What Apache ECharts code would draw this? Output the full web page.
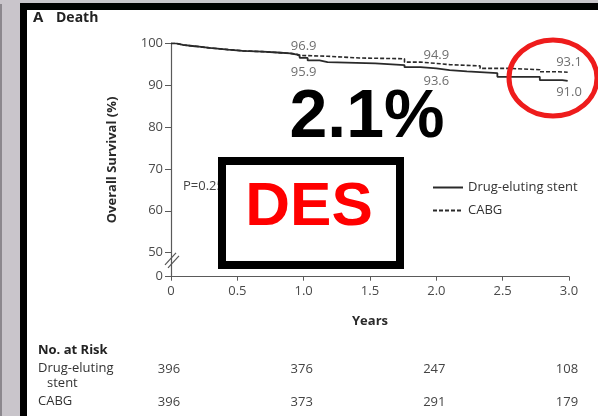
<!DOCTYPE html>
<html>
<head>
<meta charset="utf-8">
<script src="https://cdn.jsdelivr.net/npm/echarts@6/dist/echarts.min.js"></script>
<style>
  html, body { margin: 0; padding: 0; width: 598px; height: 416px; overflow: hidden; background: #c9c5cb; }
  #strip { position: absolute; left: 0; top: 4px; width: 2px; height: 412px; background: #8c888e; }
  #frame { position: absolute; left: 20px; top: 3px; width: 600px; height: 420px; background: #000; }
  #inner { position: absolute; left: 27px; top: 10px; width: 600px; height: 420px; background: #fff; }
  #chart { position: absolute; left: 0; top: 0; width: 598px; height: 416px; }
</style>
</head>
<body>
<div id="strip"></div>
<div id="frame"></div>
<div id="inner"></div>
<div id="chart"></div>
<script>
// ---- Data ----
const desTimes    = [0, 0.04, 0.09, 0.18, 0.29, 0.43, 0.54, 0.69, 0.80, 0.90, 0.95, 0.97, 1.03, 1.12, 1.18, 1.54, 1.76, 1.88, 2.00, 2.10, 2.23, 2.46, 2.78, 2.95, 2.99];
const desSurvival = [100, 99.6, 99.3, 98.9, 98.5, 98.2, 98.0, 97.8, 97.6, 97.3, 97.0, 96.5, 95.9, 95.5, 95.2, 94.8, 94.3, 94.0, 93.6, 93.3, 92.9, 92.0, 91.2, 91.0, 91.0];

const cabgTimes    = [0, 0.04, 0.09, 0.18, 0.29, 0.43, 0.54, 0.69, 0.80, 0.90, 0.95, 0.98, 1.18, 1.42, 1.76, 1.88, 2.00, 2.10, 2.33, 2.55, 2.78, 2.92, 2.99];
const cabgSurvival = [100, 99.6, 99.3, 98.9, 98.5, 98.2, 98.0, 97.8, 97.6, 97.4, 97.1, 96.9, 96.5, 96.3, 95.5, 95.2, 94.9, 94.6, 94.0, 93.7, 93.2, 93.1, 93.1];

const labelYears   = [1.0, 2.0, 3.0];
const desLabels    = [95.9, 93.6, 91.0];
const cabgLabels   = [96.9, 94.9, 93.1];

const xTickValues  = [0, 0.5, 1.0, 1.5, 2.0, 2.5, 3.0];
const xTickLabels  = ['0', '0.5', '1.0', '1.5', '2.0', '2.5', '3.0'];
const yBreakBase   = 44.25;              // axis bottom, stands for 0 after the break
const yTickValues  = [yBreakBase, 50, 60, 70, 80, 90, 100];
const yTickLabels  = ['0', '50', '60', '70', '80', '90', '100'];

const riskYears    = [0, 1, 2, 3];
const riskDES      = [396, 376, 247, 108];
const riskCABG     = [396, 373, 291, 179];

const seriesNames  = ['Drug-eluting stent', 'CABG'];

// ---- Chart ----
const FONT = '"Open Sans", "DejaVu Sans", sans-serif';
const chart = echarts.init(document.getElementById('chart'), null, { renderer: 'canvas' });

const zip = (a, b) => a.map((v, i) => [v, b[i]]);

const option = {
  backgroundColor: 'transparent',
  animation: false,
  grid: { left: 171, right: 29, top: 43.3, bottom: 139.3, containLabel: false },
  xAxis: {
    type: 'value', min: 0, max: 3, interval: 0.5,
    name: 'Years', nameLocation: 'middle', nameGap: 38,
    nameTextStyle: { fontFamily: FONT, fontSize: 13, fontWeight: 'bold', color: '#2a2a2a' },
    axisLine: { show: true, lineStyle: { color: '#5a5a5a', width: 1.2 } },
    axisTick: { show: true, length: 4, lineStyle: { color: '#5a5a5a' } },
    axisLabel: {
      margin: 8, fontFamily: FONT, fontSize: 13, color: '#4a4a4a',
      formatter: v => { const i = xTickValues.indexOf(+v.toFixed(2)); return i >= 0 ? xTickLabels[i] : ''; }
    },
    splitLine: { show: false }
  },
  yAxis: {
    type: 'value', min: yBreakBase, max: 100,
    name: 'Overall Survival (%)', nameLocation: 'middle', nameGap: 52,
    nameTextStyle: { fontFamily: FONT, fontSize: 13, fontWeight: 'bold', color: '#2a2a2a' },
    axisLine: { show: true, lineStyle: { color: '#5a5a5a', width: 1.2 } },
    axisTick: { show: true, length: 6, customValues: yTickValues, lineStyle: { color: '#5a5a5a' } },
    axisLabel: {
      margin: 8, fontFamily: FONT, fontSize: 13, color: '#4a4a4a',
      customValues: yTickValues,
      formatter: v => { const i = yTickValues.findIndex(t => Math.abs(t - v) < 1e-6); return i >= 0 ? yTickLabels[i] : ''; }
    },
    splitLine: { show: false }
  },
  legend: {
    orient: 'vertical', left: 427, top: 176, itemWidth: 30, itemHeight: 10, itemGap: 10,
    itemStyle: { opacity: 0 },
    textStyle: { fontFamily: FONT, fontSize: 13, color: '#333' },
    data: seriesNames
  },
  series: [
    {
      name: seriesNames[0], type: 'line', step: 'end', symbol: 'none', showSymbol: false,
      data: zip(desTimes, desSurvival),
      lineStyle: { color: '#2a2a2a', width: 1.8, type: 'solid' },
      itemStyle: { color: '#2a2a2a' }, z: 3
    },
    {
      name: seriesNames[1], type: 'line', step: 'end', symbol: 'none', showSymbol: false,
      data: zip(cabgTimes, cabgSurvival),
      lineStyle: { color: '#2a2a2a', width: 1.6, type: [4, 2] },
      itemStyle: { color: '#2a2a2a' }, z: 3
    },
    {
      type: 'scatter', symbolSize: 0, silent: true,
      data: zip(labelYears, cabgLabels),
      label: { show: true, position: 'top', distance: 3, fontFamily: FONT, fontSize: 13, color: '#4a4a4a',
               formatter: p => p.value[1].toFixed(1) }
    },
    {
      type: 'scatter', symbolSize: 0, silent: true,
      data: zip(labelYears, desLabels),
      label: { show: true, position: 'bottom', distance: 5, fontFamily: FONT, fontSize: 13, color: '#4a4a4a',
               formatter: p => p.value[1].toFixed(1) }
    }
  ]
};
chart.setOption(option);

// ---- Annotations and risk table (positions through the axes) ----
const px = (x, y) => chart.convertToPixel({ gridIndex: 0 }, [x, y]);
const axisX = px(0, 100)[0];
const breakY = px(0, 48.5)[1];
const riskRowY = [369, 402];

const graphics = [
  // title
  { type: 'text', left: 33, top: 10, style: { text: 'A', font: 'bold 15px ' + FONT, fill: '#222' } },
  { type: 'text', left: 56, top: 11, style: { text: 'Death', font: 'bold 14px ' + FONT, fill: '#222' } },
  // axis break marks
  { type: 'line', z: 10, shape: { x1: axisX - 6, y1: breakY + 6, x2: axisX + 5, y2: breakY - 6 }, style: { stroke: '#555', lineWidth: 1.2 } },
  { type: 'line', z: 10, shape: { x1: axisX - 3, y1: breakY + 9, x2: axisX + 8, y2: breakY - 3 }, style: { stroke: '#555', lineWidth: 1.2 } },
  // P value
  { type: 'text', z: 5, x: 183, y: 186, style: { text: 'P=0.25', font: '13px ' + FONT, fill: '#444', textVerticalAlign: 'middle' } },
  // DES box
  { type: 'rect', z: 20, shape: { x: 222, y: 161, width: 178, height: 104 }, style: { fill: '#fff', stroke: '#000', lineWidth: 8 } },
  { type: 'text', z: 21, x: 309, y: 208, style: { text: 'DES', font: 'bold 62px "Liberation Sans", sans-serif', fill: '#ff0000', textAlign: 'center', textVerticalAlign: 'middle' } },
  // 2.1%
  { type: 'text', z: 21, x: 367, y: 118, style: { text: '2.1%', font: 'bold 68px "Liberation Sans", sans-serif', fill: '#000', textAlign: 'center', textVerticalAlign: 'middle' } },
  // red ellipse
  { type: 'ellipse', z: 21, shape: { cx: 553, cy: 78, rx: 44, ry: 38 }, style: { fill: 'none', stroke: '#ee1c1c', lineWidth: 5 } },
  // risk table
  { type: 'text', x: 38, y: 350, style: { text: 'No. at Risk', font: 'bold 13px ' + FONT, fill: '#222', textVerticalAlign: 'middle' } },
  { type: 'text', x: 38, y: 368, style: { text: 'Drug-eluting', font: '13px ' + FONT, fill: '#333', textVerticalAlign: 'middle' } },
  { type: 'text', x: 47, y: 383, style: { text: 'stent', font: '13px ' + FONT, fill: '#333', textVerticalAlign: 'middle' } },
  { type: 'text', x: 38, y: 401, style: { text: 'CABG', font: '13px ' + FONT, fill: '#333', textVerticalAlign: 'middle' } }
];
riskYears.forEach((t, i) => {
  const cx = px(t, 100)[0] - 2;
  graphics.push({ type: 'text', x: cx, y: riskRowY[0], style: { text: String(riskDES[i]), font: '13px ' + FONT, fill: '#444', textAlign: 'center', textVerticalAlign: 'middle' } });
  graphics.push({ type: 'text', x: cx, y: riskRowY[1], style: { text: String(riskCABG[i]), font: '13px ' + FONT, fill: '#444', textAlign: 'center', textVerticalAlign: 'middle' } });
});
chart.setOption({ graphic: { elements: graphics } });
</script>
</body>
</html>
